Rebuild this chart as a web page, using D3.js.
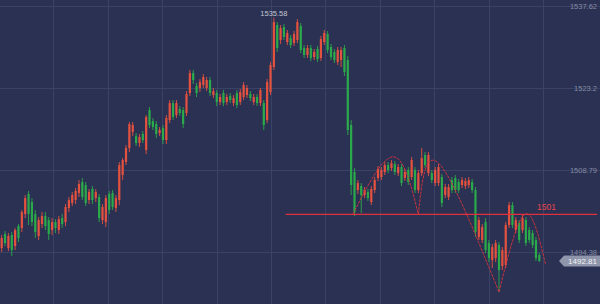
<!DOCTYPE html>
<html>
<head>
<meta charset="utf-8">
<script src="https://cdn.jsdelivr.net/npm/d3@7"></script>
<style>
  html, body { margin: 0; padding: 0; background: #2b3152; }
  #chart { width: 600px; height: 304px; }
  text { font-family: "Liberation Sans", Arial, sans-serif; }
</style>
</head>
<body>
<div id="chart"></div>
<script>
'use strict';

// candle data (oldest -> newest)
const opens = [
  1495.07,1497.54,1495.07,1497.36,1495.43,1498.94,1498.59,1501.05,1504.57,1503.16,
  1501.05,1497.19,1499.29,1500.70,1499.99,1498.24,1499.64,1498.24,1500.34,1499.64,
  1502.10,1502.98,1503.51,1504.74,1506.68,1506.15,1503.51,1505.45,1503.85,1504.04,
  1499.99,1499.64,1504.57,1504.74,1502.10,1503.51,1507.91,1510.19,1512.65,1515.47,
  1514.76,1513.53,1515.12,1512.30,1519.33,1517.39,1516.87,1515.29,1516.17,1514.06,
  1517.57,1520.56,1518.45,1519.51,1519.33,1518.80,1522.32,1525.83,1523.55,1523.20,
  1523.73,1523.20,1524.61,1521.97,1522.32,1520.74,1522.32,1520.74,1521.79,1520.56,
  1522.32,1520.74,1521.62,1521.97,1522.15,1520.74,1521.62,1520.56,1520.56,1517.57,
  1522.50,1526.89,1534.28,1531.64,1533.92,1531.29,1531.99,1531.11,1531.64,1534.10,
  1530.23,1529.00,1530.23,1528.65,1530.06,1528.47,1531.29,1532.69,1530.41,1529.53,
  1527.77,1528.12,1530.23,1528.12,1516.70,1508.43,1505.27,1505.97,1504.39,1504.92,
  1503.16,1505.27,1507.38,1507.55,1508.43,1509.66,1509.13,1509.84,1508.25,1509.31,
  1507.38,1508.78,1507.55,1508.78,1505.27,1508.25,1511.42,1508.25,1508.25,1506.50,
  1506.50,1507.55,1504.39,1504.04,1507.03,1507.38,1506.68,1506.15,1505.97,1506.15,
  1506.68,1505.27,1497.01,1496.48,1499.64,1495.95,1492.96,1493.31,1495.60,1491.91,
  1492.08,1499.12,1502.63,1498.24,1499.47,1498.24,1499.99,1498.24,1497.71,1496.48,
  1493.84
];
const closes = [
  1496.83,1495.95,1497.19,1494.72,1498.24,1496.83,1501.40,1503.85,1501.05,1499.64,
  1497.89,1499.99,1500.70,1498.94,1497.54,1499.64,1498.59,1500.16,1499.29,1502.28,
  1503.51,1504.39,1505.09,1506.33,1504.04,1502.98,1504.92,1503.51,1504.92,1500.34,
  1502.28,1503.85,1501.75,1502.28,1503.85,1509.66,1510.54,1512.65,1516.87,1516.70,
  1513.53,1514.59,1514.06,1518.10,1516.70,1516.34,1515.12,1515.82,1514.06,1517.92,
  1520.56,1518.10,1520.56,1518.80,1516.87,1522.15,1525.83,1524.61,1522.32,1524.26,
  1525.13,1524.61,1522.32,1522.67,1520.74,1521.62,1520.56,1521.62,1521.09,1521.44,
  1520.21,1522.50,1523.73,1523.20,1521.44,1521.62,1520.56,1522.85,1516.70,1524.26,
  1527.24,1534.80,1530.23,1533.75,1532.17,1532.87,1530.76,1532.69,1534.80,1529.88,
  1529.00,1530.23,1528.47,1529.53,1528.30,1531.81,1532.87,1529.88,1528.65,1528.12,
  1529.88,1529.88,1526.01,1515.82,1506.15,1501.40,1506.50,1504.39,1505.27,1503.85,
  1505.45,1507.03,1508.96,1508.78,1509.66,1508.78,1510.01,1508.43,1509.31,1506.50,
  1508.43,1506.68,1510.54,1505.27,1508.25,1510.89,1509.66,1511.42,1507.03,1508.78,
  1509.31,1502.98,1505.80,1505.80,1505.27,1505.27,1505.27,1507.03,1506.85,1507.03,
  1505.27,1497.89,1499.99,1498.76,1494.72,1493.31,1495.25,1495.95,1491.20,1494.72,
  1499.12,1502.63,1499.12,1499.99,1496.48,1500.34,1495.95,1496.48,1495.60,1493.31,
  1492.81
];
const highs = [
  1497.36,1498.06,1497.71,1497.89,1498.59,1499.29,1501.75,1504.39,1505.09,1503.85,
  1501.75,1500.52,1501.40,1501.40,1500.52,1500.34,1500.16,1500.70,1501.05,1502.81,
  1504.04,1504.92,1505.62,1507.03,1507.38,1506.68,1505.45,1505.97,1505.45,1504.57,
  1502.81,1504.39,1505.09,1505.27,1504.39,1510.19,1510.89,1513.18,1517.22,1517.22,
  1515.29,1515.12,1515.64,1518.45,1519.86,1517.92,1517.39,1516.34,1516.70,1518.45,
  1521.09,1521.09,1521.09,1520.03,1519.86,1522.67,1526.36,1526.36,1524.08,1524.78,
  1525.66,1525.13,1525.13,1523.20,1522.85,1522.15,1522.85,1522.15,1522.32,1521.97,
  1522.85,1523.02,1524.26,1523.73,1522.67,1522.15,1522.15,1523.20,1521.09,1524.78,
  1527.77,1535.58,1534.80,1534.28,1534.45,1533.40,1532.52,1533.22,1535.33,1534.63,
  1530.76,1530.76,1530.76,1530.06,1530.58,1532.34,1533.40,1533.22,1530.94,1530.06,
  1530.41,1530.41,1530.76,1528.82,1517.57,1509.13,1507.03,1506.50,1505.80,1505.45,
  1505.97,1507.55,1509.49,1509.31,1510.19,1510.19,1510.54,1510.37,1509.84,1509.84,
  1508.96,1509.31,1511.07,1509.31,1508.78,1512.65,1511.95,1511.95,1508.78,1509.31,
  1509.84,1508.08,1506.33,1506.33,1507.55,1507.91,1507.20,1507.55,1507.38,1507.55,
  1507.20,1505.80,1500.52,1499.29,1500.34,1496.48,1495.78,1496.48,1496.13,1495.25,
  1499.64,1503.16,1503.16,1500.52,1499.99,1500.87,1500.52,1498.76,1498.24,1497.01,
  1494.19
];
const lows = [
  1494.37,1495.43,1494.54,1493.67,1494.72,1496.13,1497.89,1500.34,1499.11,1498.94,
  1496.83,1496.48,1498.59,1498.24,1496.48,1497.36,1497.71,1497.54,1498.59,1498.94,
  1501.40,1502.46,1502.81,1504.04,1503.51,1502.46,1502.81,1502.81,1503.16,1499.64,
  1499.29,1498.76,1501.05,1501.75,1501.40,1502.63,1507.03,1509.66,1511.95,1514.76,
  1513.00,1512.83,1513.53,1511.60,1516.17,1515.82,1514.41,1514.76,1513.35,1513.35,
  1517.04,1517.57,1517.92,1518.27,1516.17,1518.27,1521.79,1523.90,1521.62,1522.50,
  1523.20,1522.67,1521.79,1521.44,1520.03,1520.21,1520.03,1520.21,1520.56,1520.03,
  1519.68,1520.21,1521.09,1521.44,1520.91,1520.21,1520.03,1520.03,1515.82,1517.04,
  1521.97,1526.36,1529.53,1530.94,1531.64,1530.76,1530.23,1530.58,1531.11,1529.35,
  1528.47,1528.47,1527.94,1528.12,1527.77,1527.94,1530.76,1529.35,1528.12,1527.59,
  1527.24,1526.89,1525.31,1514.94,1504.39,1500.70,1504.57,1501.22,1503.85,1503.34,
  1502.63,1504.74,1506.85,1507.03,1507.91,1508.25,1508.61,1507.91,1507.73,1505.97,
  1506.85,1506.15,1507.03,1504.74,1504.74,1507.73,1509.13,1507.73,1506.50,1505.97,
  1505.97,1502.28,1503.85,1503.51,1504.74,1504.74,1504.74,1505.62,1505.45,1505.62,
  1504.74,1497.01,1496.48,1495.95,1494.19,1492.61,1491.56,1492.61,1487.34,1491.20,
  1491.56,1498.59,1498.59,1497.71,1495.95,1497.71,1495.43,1495.95,1495.07,1492.79,
  1492.61
];

// price axis ticks
const yTicks = [1537.62, 1523.2, 1508.79, 1494.38];

// horizontal level drawn by the user
const levelValue = 1501;
const levelStart = 84.5;

// hand drawn pattern arcs: [candle index, price]
const patternArcs = [
  [[104.5, 1501], [116.5, 1511.1], [124, 1501]],
  [[124, 1501], [130, 1510.0], [148, 1487.34]],
  [[148, 1487.34], [155.7, 1501], [161.8, 1492.3]]
];

const W = 600, H = 304;
const plotW = 544;
const UP = '#e5513f', DOWN = '#2aaa4a';

const svg = d3.select('#chart').append('svg')
  .attr('width', W)
  .attr('height', H);

svg.append('rect').attr('width', W).attr('height', H).attr('fill', '#2b3152');

const n = closes.length;
const x = d3.scaleLinear().domain([-0.5, n - 0.5]).range([0, 541]);
const y = d3.scaleLinear().domain([1537.62, 1494.38]).range([6, 252]);

// grid
const grid = svg.append('g').attr('stroke', '#3a4265').attr('stroke-width', 1);
grid.selectAll('.hg')
  .data(yTicks)
  .join('line')
  .attr('x1', 0).attr('x2', W)
  .attr('y1', d => Math.round(y(d)) + 0.5)
  .attr('y2', d => Math.round(y(d)) + 0.5);
grid.selectAll('.vg')
  .data(d3.range(1, 11))
  .join('line')
  .attr('x1', k => Math.round(plotW * k / 10) - 0.5)
  .attr('x2', k => Math.round(plotW * k / 10) - 0.5)
  .attr('y1', 0).attr('y2', H);

// price labels
const yAxis = d3.axisLeft(y)
  .tickValues(yTicks)
  .tickSize(0)
  .tickPadding(2)
  .tickFormat(d => String(d));
const ax = svg.append('g')
  .attr('transform', `translate(${W - 1},0)`)
  .call(yAxis);
ax.select('.domain').remove();
ax.selectAll('text')
  .attr('fill', '#858ca5')
  .attr('font-size', 7.5)
  .attr('font-family', '"Liberation Sans", Arial, sans-serif');

// candles
const plot = svg.append('g');
const candles = plot.selectAll('.candle')
  .data(d3.range(n))
  .join('g')
  .attr('class', 'candle');

candles.append('line')
  .attr('x1', i => x(i)).attr('x2', i => x(i))
  .attr('y1', i => y(highs[i]))
  .attr('y2', i => y(lows[i]))
  .attr('stroke', i => closes[i] >= opens[i] ? UP : DOWN)
  .attr('stroke-width', 0.9);

candles.append('rect')
  .attr('x', i => x(i) - 1.1)
  .attr('width', 2.2)
  .attr('y', i => y(Math.max(opens[i], closes[i])))
  .attr('height', i => Math.max(1, y(Math.min(opens[i], closes[i])) - y(Math.max(opens[i], closes[i]))))
  .attr('fill', i => closes[i] >= opens[i] ? UP : DOWN);

// max price marker
const hiIdx = d3.maxIndex(highs);
svg.append('text')
  .attr('x', x(hiIdx))
  .attr('y', y(highs[hiIdx]) - 2)
  .attr('text-anchor', 'middle')
  .attr('font-size', 7.5)
  .attr('fill', '#c3c7d4')
  .text(highs[hiIdx].toFixed(2));

// level line
svg.append('line')
  .attr('x1', x(levelStart)).attr('x2', W - 3)
  .attr('y1', y(levelValue)).attr('y2', y(levelValue))
  .attr('stroke', '#e0303d')
  .attr('stroke-width', 1.1);
svg.append('text')
  .attr('x', plotW + 2.5)
  .attr('y', y(levelValue) - 4)
  .attr('text-anchor', 'middle')
  .attr('font-size', 8.5)
  .attr('fill', '#e8444c')
  .text(levelValue);

// pattern curves
const arcLine = d3.line()
  .x(d => x(d[0]))
  .y(d => y(d[1]))
  .curve(d3.curveNatural);
svg.append('g')
  .selectAll('path')
  .data(patternArcs)
  .join('path')
  .attr('d', arcLine)
  .attr('fill', 'none')
  .attr('stroke', '#d8323c')
  .attr('stroke-width', 0.9)
  .attr('stroke-dasharray', '3,1');

// last price tag
const last = closes[n - 1];
const ty = y(last);
svg.append('path')
  .attr('d', `M${W - 41},${ty} L${W - 36},${ty - 5.5} L${W},${ty - 5.5} L${W},${ty + 5.5} L${W - 36},${ty + 5.5} Z`)
  .attr('fill', '#8f95aa');
svg.append('text')
  .attr('x', W - 3)
  .attr('y', ty)
  .attr('dy', '0.35em')
  .attr('text-anchor', 'end')
  .attr('font-size', 8)
  .attr('fill', '#f2f3f7')
  .text(last.toFixed(2));
</script>
</body>
</html>
